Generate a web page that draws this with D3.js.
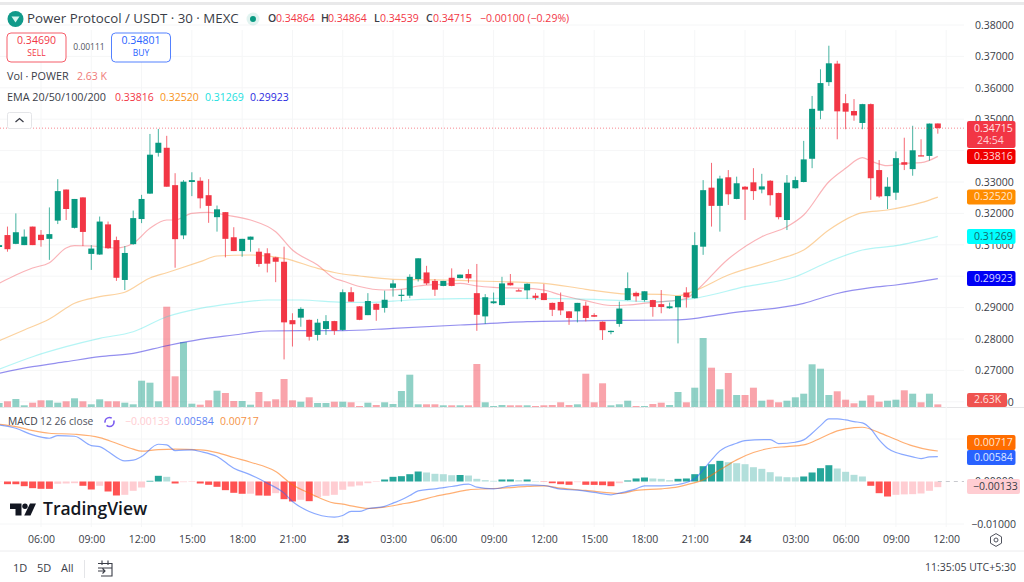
<!DOCTYPE html>
<html>
<head>
<meta charset="utf-8">
<title>Power Protocol / USDT 30m</title>
<script src="https://cdn.jsdelivr.net/npm/d3@7"></script>
<style>
  html, body { margin: 0; padding: 0; background: #fff; overflow: hidden; }
  svg { display: block; }
  text { font-family: "Open Sans", "Noto Sans", sans-serif; }
  .domain { display: none; }
</style>
</head>
<body>
<svg id="chart" width="1024" height="582"></svg>
<script>
// Half-hour bars, numbered from the 06:00 bar of the first session.
const firstBar = -5;

const opens = [.3093,.3131,.3103,.3099,.3158,.3132,.3119,.3177,.3276,.3154,.3251,.3071,.3069,.3165,.3115,.2988,.3102,.3182,.3263,.3393,.3409,.3290,.3130,.3300,.3304,.3258,.3188,.3204,.3124,.3080,.3116,.3078,.3073,.3060,.3046,.2860,.2868,.2861,.2813,.2832,.2857,.2829,.2949,.2904,.2876,.2912,.2899,.2963,.2939,.2938,.2991,.3012,.2985,.2969,.2995,.2994,.3007,.2946,.2872,.2914,.2908,.2979,.2955,.2955,.2938,.2946,.2915,.2918,.2888,.2888,.2906,.2876,.2855,.2822,.2848,.2924,.2947,.2924,.2924,.2911,.2898,.2901,.2948,.2930,.3094,.3282,.3224,.3315,.3246,.3285,.3299,.3276,.3304,.3265,.3179,.3280,.3300,.3374,.3527,.3618,.3677,.3551,.3526,.3488,.3548,.3338,.3255,.3266,.3363,.3341,.3385,.3383,.34864];
const highs = [.3106,.3158,.3200,.3149,.3158,.3147,.3219,.3309,.3276,.3246,.3251,.3099,.3190,.3174,.3126,.3096,.3209,.3259,.3453,.3469,.3447,.3328,.3306,.3331,.3315,.3309,.3225,.3204,.3156,.3119,.3126,.3089,.3089,.3062,.3094,.2882,.2901,.2862,.2864,.2876,.2858,.2958,.2965,.2905,.2946,.2913,.2954,.2988,.2958,.3006,.3057,.3033,.2991,.2985,.3025,.3005,.3022,.3039,.2943,.2948,.2998,.3007,.2960,.2977,.2946,.2975,.2916,.2948,.2889,.2915,.2919,.2882,.2856,.2827,.2919,.3012,.2951,.2952,.2925,.2956,.2916,.2937,.2965,.3140,.3306,.3361,.3320,.3338,.3317,.3287,.3344,.3326,.3306,.3266,.3322,.3317,.3431,.3574,.3659,.3734,.3686,.3580,.3564,.3549,.3550,.3370,.3315,.3397,.3441,.3479,.3436,.34864,.34864];
const lows = [.3083,.3078,.3102,.3099,.3099,.3094,.3052,.3166,.3179,.3152,.3096,.3020,.3068,.3087,.2985,.2956,.3100,.3169,.3262,.3381,.3285,.3027,.3118,.3255,.3216,.3170,.3142,.3060,.3080,.3062,.3078,.3030,.3012,.2981,.2735,.2776,.2839,.2795,.2795,.2813,.2813,.2826,.2919,.2860,.2876,.2858,.2884,.2935,.2919,.2930,.2983,.2972,.2937,.2968,.2968,.2993,.2979,.2826,.2848,.2912,.2907,.2970,.2953,.2927,.2924,.2924,.2873,.2876,.2845,.2853,.2856,.2870,.2797,.2815,.2839,.2923,.2919,.2919,.2871,.2882,.2896,.2786,.2900,.2929,.3068,.3158,.3142,.3227,.3245,.3179,.3243,.3264,.3225,.3181,.3147,.3279,.3299,.3344,.3500,.3606,.3436,.3468,.3495,.3468,.3243,.3250,.3214,.3243,.3338,.3320,.3382,.3368,.34539];
const closes = [.3099,.3086,.3140,.3126,.3099,.3115,.3134,.3271,.3214,.3246,.3141,.3088,.3174,.3089,.2995,.3074,.3185,.3246,.3387,.3425,.3285,.3118,.3301,.3306,.3248,.3224,.3213,.3119,.3080,.3119,.3126,.3039,.3040,.3046,.2853,.2847,.2896,.2807,.2852,.2857,.2826,.2949,.2919,.2861,.2921,.2893,.2925,.2977,.2941,.2998,.3057,.2977,.2957,.2985,.2969,.3005,.2993,.2877,.2933,.2920,.2977,.2971,.2954,.2976,.2931,.2924,.2893,.2891,.2867,.2915,.2867,.2871,.2828,.2826,.2897,.2962,.2936,.2952,.2902,.2902,.2904,.2937,.2933,.3099,.3274,.3224,.3311,.3261,.3296,.3276,.3271,.3286,.3258,.3188,.3298,.3306,.3372,.3533,.3615,.3678,.3525,.3524,.3512,.3548,.3312,.3254,.3285,.3376,.3355,.3401,.3383,.3486,.34715];

// Volume in thousands of POWER.
const volumes = [4,5.7,8,1.7,4.3,6.7,6.7,4.3,5.7,8.7,5.7,2.7,7.7,5.7,5.7,4.3,2.7,26.3,24.3,5.7,100.3,30.7,65,3.3,2.3,6.7,16.3,14,6,6,2.3,15,5.7,7.7,28,6.7,5.3,9.7,4,4,5.3,5.3,4.7,1,4.3,2,4.7,3,16,32.3,2.7,2.7,2.7,1.7,1.7,1.7,1.7,43,4.7,1,2,1.7,1.7,1.7,1,1.7,2,4.7,2,2.7,33.3,4.7,23.7,1.7,2.7,6.3,1,1,3,4.3,2,15,4.7,19.3,69,39.3,17.7,34,12,12,19.3,6.3,7.3,4.7,6.3,9.7,13.3,42.7,38.3,12,15.7,7.3,3.7,6.3,11.7,5.3,6.3,7.3,16.7,13.3,4.7,13.3,2.63];

// Moving averages, read at selected bars.
const ema20Bars = [-5,-3,-1,1,3,4,6,9,11,13,15,16,18,20,22,25,28,30,33,35,36,38,41,43,45,48,50,52,54,58,60,62,65,68,70,73,74,77,78,82,86,89,91,94,96,98,99,101,103,105,107];
const ema20Values = [.29774,.30038,.30261,.3043,.30898,.30971,.30962,.30898,.31048,.31526,.3179,.3179,.32003,.32035,.31949,.3179,.31417,.30834,.30357,.29933,.29847,.29672,.2956,.29583,.29688,.29742,.29774,.29688,.29646,.29615,.2956,.29401,.2922,.29067,.29083,.29169,.29188,.29296,.29497,.30548,.31258,.31576,.31949,.33009,.33436,.33774,.33669,.33519,.33596,.33615,.33816];
const ema50Bars = [-5,-2,1,4,7,10,13,15,16,19,21,25,29,33,35,38,42,48,52,60,65,70,74,76,78,82,88,91,94,98,101,105,107];
const ema50Values = [.27946,.28286,.28637,.29137,.29347,.29487,.29943,.30111,.30197,.30462,.30643,.30675,.3057,.30251,.30118,.30006,.29901,.29879,.29847,.29774,.29583,.29433,.29423,.29379,.29538,.30038,.30538,.30834,.31471,.32022,.32108,.32341,.3252];
const ema100Bars = [-5,-1,3,7,11,15,19,23,27,31,36,39,44,50,58,66,73,78,84,90,94,98,102,107];
const ema100Values = [.27035,.27436,.27755,.28022,.28232,.2871,.28977,.29137,.29242,.29242,.29169,.29169,.29242,.29283,.29296,.29264,.29188,.29296,.29666,.29984,.30462,.30834,.30971,.31269];
const ema200Bars = [-5,-1,3,7,11,15,19,23,27,31,36,42,50,58,66,75,77,82,91,95,99,102,107];
const ema200Values = [.26908,.27118,.27277,.27436,.27544,.27786,.2799,.28127,.28255,.28264,.28264,.28341,.28446,.28551,.28583,.28605,.28627,.28818,.29137,.29449,.29634,.2972,.29923];

// MACD panel.
const histogram = [-.00005,-.00063,-.00064,-.0011,-.00157,-.00172,-.00173,-.00054,-.00047,-.0004,-.00101,-.00188,-.00101,-.00235,-.00329,-.00313,-.00219,-.00141,.00016,.00134,.0011,-.00047,-.00016,-.00012,-.00047,-.00078,-.00125,-.00204,-.00266,-.00289,-.00287,-.00329,-.00334,-.00275,-.00416,-.0047,-.0043,-.00463,-.00369,-.00336,-.00313,-.00195,-.00118,-.00094,-.0004,-.00012,.00047,.0011,.00125,.00172,.00235,.00212,.00181,.00172,.00148,.00153,.00141,.00063,.00031,.00016,.00047,.00048,.00031,.00047,.00009,-.00007,-.0004,-.00063,-.00078,-.00016,-.00078,-.0008,-.00087,-.0011,-.0004,.00024,.00071,.00094,.00071,.00063,.00031,.00063,.00071,.00172,.0036,.00407,.00486,.00454,.0043,.00407,.00336,.00298,.00219,.00118,.00101,.00099,.00118,.00212,.00313,.00383,.00306,.00228,.00157,.00118,-.00101,-.00275,-.00353,-.00313,-.00303,-.00298,-.00282,-.00219,-.00133];
const macdBars = [-5,-3,-1,1,2,4,6,7,8,10,11,12,14,15,16,18,19,21,23,25,27,29,30,32,35,36,37,38,39,41,42,43,44,45,47,49,51,52,54,56,58,60,62,64,66,68,69,71,72,74,76,77,78,79,80,81,83,84,87,88,90,91,92,93,94,95,96,97,98,99,100,101,102,103,104,105,106,107];
const macdValues = [.01331,.01253,.01096,.01018,.01081,.01065,.00846,.00822,.00705,.00485,.00501,.00587,.00877,.00861,.00728,.00744,.00705,.00587,.00313,.00157,-.00039,-.00274,-.0047,-.00705,-.00838,-.00799,-.00705,-.00705,-.00642,-.00587,-.00509,-.00431,-.00329,-.00219,-.00172,-.00117,-.00063,-.00133,-.00172,-.00102,-.00078,-.00094,-.0018,-.00204,-.00258,-.00313,-.00274,-.00172,-.00102,-.00102,-.0007,-.00023,.00063,.00274,.00509,.0072,.009,.00963,.00987,.00893,.00924,.00979,.01135,.01315,.01472,.01472,.01449,.01409,.01378,.01237,.00979,.00783,.00681,.00626,.00579,.0054,.00579,.00584];
const signalBars = [-5,-3,-1,1,4,7,9,11,12,14,16,19,21,23,25,28,30,32,35,36,37,39,41,43,45,47,49,51,53,55,58,60,62,65,69,71,74,76,77,79,81,83,85,87,89,91,93,95,97,98,100,102,104,106,107];
const signalValues = [.01347,.01292,.01198,.01135,.01112,.01034,.009,.0076,.00713,.00752,.0076,.00744,.00681,.00564,.00454,.00235,-.00078,-.00274,-.00509,-.00532,-.00572,-.00634,-.00603,-.00532,-.00454,-.00352,-.00274,-.00196,-.00172,-.00157,-.00117,-.00102,-.00157,-.00211,-.00282,-.00211,-.00172,-.00125,-.00078,.00039,.00274,.00509,.00681,.00783,.00822,.00861,.01018,.0119,.01268,.01276,.01151,.00987,.00838,.00744,.00717];

// Axis labels and grid levels. Levels that sit fully under a scale tag keep their grid line only.
const priceGrid = [.38,.37,.36,.35,.34,.33,.32,.31,.30,.29,.28,.27,.26];
const priceLabels = [.38,.37,.36,.35,.33,.32,.31,.29,.28,.27,.26];
const macdGrid = [.01,-.01];
const macdLabels = [0,-.01];
const timeTickBars = [0,6,12,18,24,30,36,42,48,54,60,66,72,78,84,90,96,102,108];
const timeTickLabels = ["06:00","09:00","12:00","15:00","18:00","21:00","23","03:00","06:00","09:00","12:00","15:00","18:00","21:00","24","03:00","06:00","09:00","12:00"];

// Last values carried by the price scale tags.
const lastClose = 0.34715;
const ema20Last = 0.33816, ema50Last = 0.32520, ema100Last = 0.31269, ema200Last = 0.29923;
const macdLast = 0.00584, signalLast = 0.00717, histogramLast = -0.00133;

const UP = "#089981", DOWN = "#f23645", INK = "#131722";
const svg = d3.select("#chart");
const num5 = d3.format(".5f");

// Scales
const x = d3.scaleLinear().domain([0, 108]).range([41, 946.2]);
const yPrice = d3.scaleLinear().domain([.27, .38]).range([370.4, 25]);
const yVol = d3.scaleLinear().domain([0, 100]).range([407, 307]);
const yMacd = d3.scaleLinear().domain([-.01, .01]).range([524, 439]);
const plotRight = 964, axisX = 971;

const bars = d3.range(opens.length).map(i => ({
  k: firstBar + i, o: opens[i], h: highs[i], l: lows[i], c: closes[i], v: volumes[i], hist: histogram[i],
  prev: i ? histogram[i - 1] : histogram[0]
}));
const colour = d => d.c >= d.o ? UP : DOWN;

// Window chrome
svg.append("rect").attr("width", 1024).attr("height", 582).attr("fill", "#fff");
svg.append("rect").attr("x", 0).attr("y", 2).attr("width", 1024).attr("height", 3).attr("fill", "#e9e9ea");
svg.append("line").attr("x1", 0).attr("x2", 1024).attr("y1", 407.5).attr("y2", 407.5).attr("stroke", "#e6e6e8");
svg.append("line").attr("x1", 0).attr("x2", 1024).attr("y1", 551).attr("y2", 551).attr("stroke", "#ececee");

// Grid
const grid = svg.append("g").attr("stroke", "#f5f6f7").attr("stroke-width", 1);
grid.selectAll("line.v").data(timeTickBars).join("line").attr("class", "v")
  .attr("x1", d => x(d)).attr("x2", d => x(d)).attr("y1", 30).attr("y2", 527);
grid.selectAll("line.h").data(priceGrid).join("line").attr("class", "h")
  .attr("x1", 0).attr("x2", plotRight).attr("y1", d => yPrice(d)).attr("y2", d => yPrice(d));
grid.selectAll("line.m").data(macdGrid).join("line").attr("class", "m")
  .attr("x1", 0).attr("x2", plotRight).attr("y1", d => yMacd(d)).attr("y2", d => yMacd(d));

// Volume columns
svg.append("g").selectAll("rect").data(bars).join("rect")
  .attr("x", d => x(d.k) - 3.5).attr("width", 7)
  .attr("y", d => yVol(d.v)).attr("height", d => yVol(0) - yVol(d.v))
  .attr("fill", colour).attr("opacity", .45);

// EMAs
const lineOf = (bs, vs, scale) => d3.line().x((d, i) => x(bs[i])).y(d => scale(d)).curve(d3.curveMonotoneX)(vs);
const emaSeries = [
  [ema20Bars, ema20Values, "#f23645", .38],
  [ema50Bars, ema50Values, "#f7931a", .42],
  [ema100Bars, ema100Values, "#18e0e0", .32],
  [ema200Bars, ema200Values, "#2a1fe0", .5]
];
svg.append("g").selectAll("path").data(emaSeries).join("path")
  .attr("d", d => lineOf(d[0], d[1], yPrice))
  .attr("fill", "none").attr("stroke", d => d[2]).attr("stroke-opacity", d => d[3]).attr("stroke-width", 1.2);

// Candles
const candles = svg.append("g");
candles.selectAll("line").data(bars).join("line")
  .attr("x1", d => x(d.k)).attr("x2", d => x(d.k))
  .attr("y1", d => yPrice(d.h)).attr("y2", d => yPrice(d.l))
  .attr("stroke", colour).attr("stroke-opacity", .75).attr("stroke-width", 1);
candles.selectAll("rect").data(bars).join("rect")
  .attr("x", d => x(d.k) - 3).attr("width", 6)
  .attr("y", d => yPrice(Math.max(d.o, d.c)))
  .attr("height", d => Math.max(1.2, yPrice(Math.min(d.o, d.c)) - yPrice(Math.max(d.o, d.c))))
  .attr("fill", colour);

// Last price marker
svg.append("line").attr("x1", 0).attr("x2", plotRight)
  .attr("y1", yPrice(lastClose)).attr("y2", yPrice(lastClose))
  .attr("stroke", DOWN).attr("stroke-opacity", .6).attr("stroke-dasharray", "1 2");

// MACD histogram, shaded by whether it grew or shrank since the previous bar
svg.append("g").selectAll("rect").data(bars).join("rect")
  .attr("x", d => x(d.k) - 3.5).attr("width", 7)
  .attr("y", d => yMacd(Math.max(0, d.hist)))
  .attr("height", d => Math.abs(yMacd(d.hist) - yMacd(0)))
  .attr("fill", d => d.hist >= 0 ? (d.hist >= d.prev ? "#26a69a" : "#b2dfdb") : (d.hist < d.prev ? "#ff5252" : "#ffcdd2"));
svg.append("line").attr("x1", x(107)).attr("x2", plotRight).attr("y1", yMacd(0)).attr("y2", yMacd(0))
  .attr("stroke", "#c8c9ce").attr("stroke-dasharray", "4 4");

svg.append("path").attr("d", lineOf(signalBars, signalValues, yMacd))
  .attr("fill", "none").attr("stroke", "#ff6d00").attr("stroke-opacity", .55).attr("stroke-width", 1.2);
svg.append("path").attr("d", lineOf(macdBars, macdValues, yMacd))
  .attr("fill", "none").attr("stroke", "#2962ff").attr("stroke-opacity", .55).attr("stroke-width", 1.2);

// Axes
function styleAxis(g, size) {
  g.selectAll(".tick line").remove();
  g.selectAll("text").attr("fill", "#3a3d47").attr("font-size", size);
}
svg.append("g").attr("transform", `translate(${axisX},0)`)
  .call(d3.axisRight(yPrice).tickValues(priceLabels).tickFormat(num5).tickSize(0).tickPadding(4))
  .call(g => styleAxis(g, 10.5));
svg.append("g").attr("transform", `translate(${axisX},0)`)
  .call(d3.axisRight(yMacd).tickValues(macdLabels).tickFormat(d => num5(d).replace("-", "\u2212")).tickSize(0).tickPadding(4))
  .call(g => {
    styleAxis(g, 10.5);
    g.selectAll(".tick").filter(d => d < 0).select("text").attr("text-anchor", "end").attr("x", 45);
  });
const timeLabel = new Map(timeTickBars.map((b, i) => [b, timeTickLabels[i]]));
svg.append("g").attr("transform", "translate(0,534)")
  .call(d3.axisBottom(x).tickValues(timeTickBars).tickFormat(d => timeLabel.get(d)).tickSize(0).tickPadding(2))
  .call(g => {
    styleAxis(g, 10.5);
    g.selectAll(".tick").filter(d => timeLabel.get(d).length < 3).select("text").attr("font-weight", 700);
  });

// Scale tags
function tag(value, fill, textFill, top, h, w, label, textX) {
  const cy = top + h / 2;
  svg.append("rect").attr("x", 967).attr("y", top).attr("width", w).attr("height", h).attr("rx", 2).attr("fill", fill);
  if (value !== null) {
    svg.append("text").attr("x", textX || 974).attr("y", cy + .5).attr("dominant-baseline", "middle")
      .attr("font-size", 10.5).attr("font-weight", 500).attr("fill", textFill).text(label || num5(value));
  }
}
tag(null, "#f23645", "#ffe2e4", 121, 27, 48.5);
svg.append("text").attr("x", 974).attr("y", 129.5).attr("dominant-baseline", "middle").attr("font-size", 10.5).attr("font-weight", 500).attr("fill", "#ffe2e4").text(num5(lastClose));
svg.append("text").attr("x", 977).attr("y", 141.5).attr("dominant-baseline", "middle").attr("font-size", 10.5).attr("fill", "#ffd0d4").text("24:54");
tag(ema20Last, "#f00000", "#ffd8d8", 149, 15, 48.5);
tag(ema50Last, "#ff8c00", "#ffe9cf", 189.5, 15, 48.5);
tag(ema100Last, "#00ffff", "#136a6a", 229, 15, 48.5);
tag(ema200Last, "#0000f5", "#d6d6ff", 271, 15, 48.5);
tag(2.63, "#ef5350", "#ffe0df", 393, 14, 40, "2.63K");
tag(signalLast, "#ff6d00", "#ffe6d4", 435, 15, 48.5);
tag(macdLast, "#2962ff", "#dfe7ff", 450, 15, 48.5);
tag(histogramLast, "#ffcdd2", "#3a3d47", 479, 15, 53, "\u22120.00133", 973);

// Header legend
const t = (xp, yp, str, fill, size, weight) => svg.append("text").attr("x", xp).attr("y", yp)
  .attr("dominant-baseline", "middle").attr("fill", fill).attr("font-size", size).attr("font-weight", weight || 400).text(str);

svg.append("circle").attr("cx", 15.5).attr("cy", 19).attr("r", 8).attr("fill", "#119a8a");
svg.append("path").attr("d", "M11.5 16.5h8l-4 6z").attr("fill", "#d8f5f0");
t(27, 19, "Power Protocol / USDT \u00b7 30 \u00b7 MEXC", "#3a3d47", 13.3);
svg.append("circle").attr("cx", 253).attr("cy", 19).attr("r", 6.5).attr("fill", "#089981").attr("opacity", .12);
svg.append("circle").attr("cx", 253).attr("cy", 19).attr("r", 3).attr("fill", "#089981");

const ohlcLegend = [["O", 268], ["0.34864", 276, 1], ["H", 321], ["0.34864", 328, 1], ["L", 374], ["0.34539", 380, 1], ["C", 426], ["0.34715", 433, 1], ["\u22120.00100 (\u22120.29%)", 480, 1]];
ohlcLegend.forEach(d => t(d[1], 19.5, d[0], d[2] ? DOWN : "#3a3d47", 10.5, d[2] ? 400 : 600));

function tradeBox(x0, colourName, price, side) {
  svg.append("rect").attr("x", x0).attr("y", 33).attr("width", 59).attr("height", 29).attr("rx", 4)
    .attr("fill", "#fff").attr("stroke", colourName).attr("stroke-opacity", .8);
  t(x0 + 29.5, 41, price, colourName, 10.5).attr("text-anchor", "middle");
  t(x0 + 29.5, 53.5, side, colourName, 8.5).attr("text-anchor", "middle");
}
tradeBox(7, "#f23645", "0.34690", "SELL");
tradeBox(111.5, "#2962ff", "0.34801", "BUY");
t(89, 48, "0.00111", "#50535e", 8.5).attr("text-anchor", "middle");

t(7, 77, "Vol \u00b7 POWER", "#3a3d47", 10.8, 500);
t(77, 77, "2.63 K", "#ef7a78", 10.5);
t(7, 98.5, "EMA 20/50/100/200", "#3a3d47", 10.8, 500);
t(115, 98.5, "0.33816", "#f23645", 10.5);
t(160, 98.5, "0.32520", "#f7931a", 10.5);
t(205, 98.5, "0.31269", "#21e0e0", 10.5);
t(250, 98.5, "0.29923", "#2a2ae0", 10.5);

svg.append("rect").attr("x", 7.5).attr("y", 112.5).attr("width", 24).attr("height", 16).attr("rx", 2)
  .attr("fill", "#fff").attr("stroke", "#e4e5e8");
svg.append("path").attr("d", "M15.5 122l4-3.5 4 3.5").attr("fill", "none").attr("stroke", "#3a3d47").attr("stroke-width", 1.3);

// MACD legend
t(8, 422.5, "MACD", "#3a3d47", 10.3, 500);
t(40, 422.5, "12 26 close", "#50535e", 10.3);
svg.append("circle").attr("cx", 109.5).attr("cy", 422).attr("r", 4.5).attr("fill", "none").attr("stroke", "#7b5cf0").attr("stroke-width", 1.6).attr("stroke-dasharray", "10 3");
t(125, 422.5, "\u22120.00133", "#ffcdd2", 10.5);
t(175, 422.5, "0.00584", "#5f85f5", 10.5);
t(220, 422.5, "0.00717", "#f59347", 10.5);

// Logo
svg.append("path").attr("d", "M10 503.5H21.5V515.5H15.5V509H10Z").attr("fill", INK);
svg.append("circle").attr("cx", 25).attr("cy", 506.2).attr("r", 2.7).attr("fill", INK);
svg.append("path").attr("d", "M30 503.5H36L30.5 515.5H24.2Z").attr("fill", INK);
t(43, 510, "TradingView", INK, 17.5, 600);

// Footer
t(13, 569, "1D", "#3a3d47", 11);
t(37, 569, "5D", "#3a3d47", 11);
t(61, 569, "All", "#3a3d47", 11);
svg.append("line").attr("x1", 84.5).attr("x2", 84.5).attr("y1", 560).attr("y2", 578).attr("stroke", "#e4e5e8");
svg.append("path").attr("d", "M98 563.5H112V576H101M98 571H105M102.5 568.5L105 571L102.5 573.5M98 568H112M102 560.5V565M108 560.5V565")
  .attr("fill", "none").attr("stroke", "#3a3d47").attr("stroke-width", 1.1);
t(1016, 568, "11:35:05 UTC+5:30", "#3a3d47", 10.5).attr("text-anchor", "end");
svg.append("path").attr("d", "M990.5 536.8L996 533.6L1001.5 536.8V543.2L996 546.4L990.5 543.2Z").attr("fill", "none").attr("stroke", "#50535e");
svg.append("circle").attr("cx", 996).attr("cy", 540).attr("r", 2).attr("fill", "none").attr("stroke", "#50535e");
</script>
</body>
</html>
